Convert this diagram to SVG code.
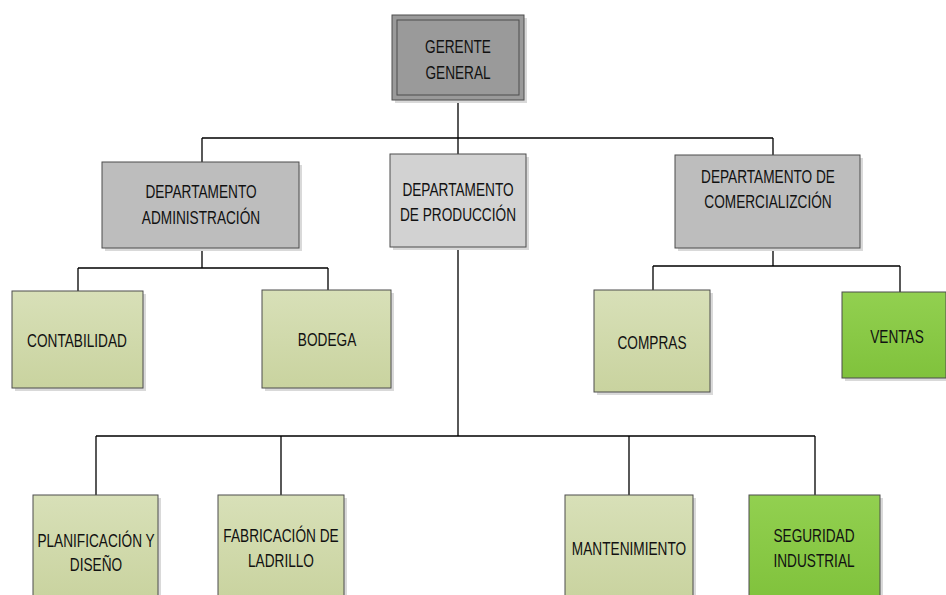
<svg xmlns="http://www.w3.org/2000/svg" width="946" height="595" viewBox="0 0 946 595">
  <defs>
    <linearGradient id="gOlive" x1="0" y1="0" x2="0" y2="1">
      <stop offset="0" stop-color="#d8e0b8"/>
      <stop offset="1" stop-color="#c9d39f"/>
    </linearGradient>
    <linearGradient id="gGreen" x1="0" y1="0" x2="0" y2="1">
      <stop offset="0" stop-color="#92d050"/>
      <stop offset="1" stop-color="#80c23c"/>
    </linearGradient>
  </defs>
  <style>
    .box { stroke: #4d4d4d; stroke-width: 1; }
    .shadow { fill: #d9d9d9; }
    .olive { fill: url(#gOlive); }
    .green { fill: url(#gGreen); }
    .txt { font-family: "Liberation Sans", Arial, sans-serif; font-size: 17.5px; fill: #111; text-anchor: middle;
           transform-box: fill-box; transform-origin: center; transform: scaleX(0.78); }
    .wire { stroke: #000; stroke-width: 1.3; fill: none; }
  </style>
  <rect width="946" height="595" fill="#fff"/>

  <g id="connectors">
    <path class="wire" d="M458,100 V138 M202,138 H773 M202,138 V162 M458,138 V154 M773,138 V155"/>
    <path class="wire" d="M202,248 V268 M78,268 H328 M78,268 V291 M328,268 V290"/>
    <path class="wire" d="M773,248 V266 M653,266 H900 M653,266 V290 M900,266 V292"/>
    <path class="wire" d="M458,247 V436 M96,436 H815 M96,436 V495 M281,436 V495 M629,436 V495 M815,436 V495"/>
  </g>

  <g id="gerente">
    <rect class="shadow" x="395" y="18" width="132" height="85"/>
    <rect class="box" x="392" y="15" width="132" height="85" fill="#9a9a9a"/>
    <rect class="box" x="397" y="20" width="122" height="75" fill="none"/>
    <text class="txt" x="458" y="53">GERENTE</text>
    <text class="txt" x="458" y="79">GENERAL</text>
  </g>

  <g id="dep-admin">
    <rect class="shadow" x="105" y="165" width="197" height="86"/>
    <rect class="box" x="102" y="162" width="197" height="86" fill="#bdbdbd"/>
    <text class="txt" x="201" y="198">DEPARTAMENTO</text>
    <text class="txt" x="201" y="224">ADMINISTRACIÓN</text>
  </g>

  <g id="dep-produccion">
    <rect class="shadow" x="393" y="157" width="136" height="93"/>
    <rect class="box" x="390" y="154" width="136" height="93" fill="#d2d2d2"/>
    <text class="txt" x="458" y="196">DEPARTAMENTO</text>
    <text class="txt" x="458" y="221">DE PRODUCCIÓN</text>
  </g>

  <g id="dep-comercial">
    <rect class="shadow" x="678" y="158" width="185" height="93"/>
    <rect class="box" x="675" y="155" width="185" height="93" fill="#bdbdbd"/>
    <text class="txt" x="768" y="183">DEPARTAMENTO DE</text>
    <text class="txt" x="768" y="208">COMERCIALIZCIÓN</text>
  </g>

  <g id="contabilidad">
    <rect class="shadow" x="15" y="294" width="131" height="97"/>
    <rect class="box olive" x="12" y="291" width="131" height="97"/>
    <text class="txt" x="77" y="347">CONTABILIDAD</text>
  </g>

  <g id="bodega">
    <rect class="shadow" x="265" y="293" width="129" height="98"/>
    <rect class="box olive" x="262" y="290" width="129" height="98"/>
    <text class="txt" x="327" y="346">BODEGA</text>
  </g>

  <g id="compras">
    <rect class="shadow" x="597" y="293" width="116" height="102"/>
    <rect class="box olive" x="594" y="290" width="116" height="102"/>
    <text class="txt" x="652" y="349">COMPRAS</text>
  </g>

  <g id="ventas">
    <rect class="shadow" x="845" y="295" width="104" height="86"/>
    <rect class="box green" x="842" y="292" width="104" height="86"/>
    <text class="txt" x="897" y="343">VENTAS</text>
  </g>

  <g id="planificacion">
    <rect class="shadow" x="36" y="498" width="125" height="100"/>
    <rect class="box olive" x="33" y="495" width="125" height="105"/>
    <text class="txt" x="96" y="547">PLANIFICACIÓN Y</text>
    <text class="txt" x="96" y="571">DISEÑO</text>
  </g>

  <g id="fabricacion">
    <rect class="shadow" x="221" y="498" width="126" height="100"/>
    <rect class="box olive" x="218" y="495" width="126" height="105"/>
    <text class="txt" x="281" y="542">FABRICACIÓN DE</text>
    <text class="txt" x="281" y="567">LADRILLO</text>
  </g>

  <g id="mantenimiento">
    <rect class="shadow" x="568" y="498" width="128" height="100"/>
    <rect class="box olive" x="565" y="495" width="128" height="105"/>
    <text class="txt" x="629" y="555">MANTENIMIENTO</text>
  </g>

  <g id="seguridad">
    <rect class="shadow" x="752" y="498" width="131" height="100"/>
    <rect class="box green" x="749" y="495" width="131" height="105"/>
    <text class="txt" x="814" y="542">SEGURIDAD</text>
    <text class="txt" x="814" y="567">INDUSTRIAL</text>
  </g>
</svg>
